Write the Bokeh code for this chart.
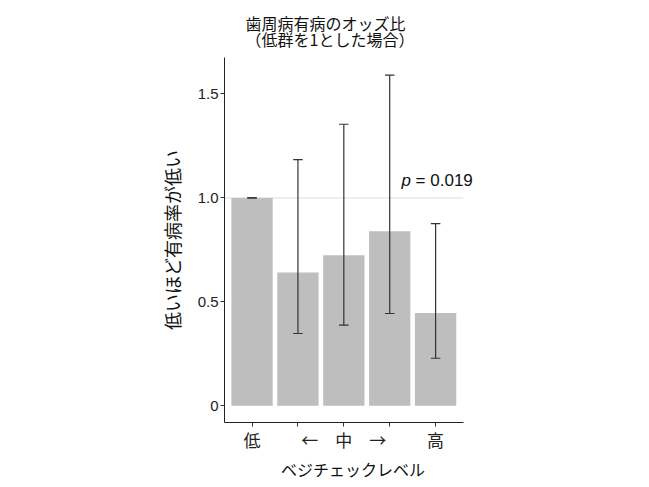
from bokeh.plotting import figure
from bokeh.models import (ColumnDataSource, Range1d, FixedTicker, CustomJSTickFormatter,
                          Whisker, TeeHead, Label, Title)
from bokeh.embed import file_html
from bokeh.resources import INLINE

# ---- data ----
categories = ["低", "", "←　中　→", "", "高"]
odds_ratio = [1.0, 0.641, 0.724, 0.840, 0.446]
ci_lower = [1.0, 0.348, 0.388, 0.444, 0.229]
ci_upper = [1.0, 1.184, 1.354, 1.590, 0.876]
y_ticks = [0, 0.5, 1.0, 1.5]
ref_value = 1.0
p_text = "0.019"

positions = list(range(1, len(categories) + 1))
src = ColumnDataSource(dict(x=positions, top=odds_ratio, lower=ci_lower, upper=ci_upper))

JP = "Noto Sans CJK JP"
LAT = "Liberation Sans"

x_lo, x_hi = 0.4, len(categories) + 0.6   # panel limits
x_view_hi = x_hi + 0.4                     # extra room for the p-value text

W, H = 649, 487
left, top, bottom = 224, 57, 65
frame_w = 257
right = W - left - frame_w

p = figure(width=W, height=H,
           output_backend="svg", toolbar_location=None,
           x_range=Range1d(x_lo, x_view_hi), y_range=Range1d(-0.08, 1.675),
           min_border_left=left, min_border_right=right, min_border_top=top, min_border_bottom=bottom)
p.background_fill_color = "white"
p.border_fill_color = "white"
p.outline_line_color = None
p.xgrid.visible = False
p.ygrid.visible = False

# reference line at OR = 1
p.line(x=[x_lo, x_hi], y=[ref_value, ref_value], line_color="#e3e3e3", line_width=1.2)

p.vbar(x="x", top="top", bottom=0, width=0.9, source=src, fill_color="#bebebe", line_color=None)

w = Whisker(base="x", upper="upper", lower="lower", source=src, line_color="#333333", line_width=1.2,
            level="overlay",
            upper_head=TeeHead(size=9.5, line_color="#333333", line_width=1.2),
            lower_head=TeeHead(size=9.5, line_color="#333333", line_width=1.2))
p.add_layout(w)

# p-value annotation
p.add_layout(Label(x=5, y=1.085, x_offset=-34, text="p", text_font=LAT, text_font_style="italic",
                   text_font_size="17px", text_color="#111111", text_align="left", text_baseline="alphabetic"))
p.add_layout(Label(x=5, y=1.085, x_offset=-20, text="= " + p_text, text_font=LAT,
                   text_font_size="17px", text_color="#111111", text_align="left", text_baseline="alphabetic"))

# axes
xa = p.xaxis[0]
xa.bounds = (x_lo, x_hi)
xa.ticker = FixedTicker(ticks=positions)
xa.formatter = CustomJSTickFormatter(args=dict(labels=categories),
                                     code="const i = Math.round(tick) - 1; return (i >= 0 && i < labels.length) ? labels[i] : '';")
xa.axis_label = "ベジチェックレベル"
xa.axis_label_text_font = JP
xa.axis_label_text_font_size = "16px"
xa.axis_label_text_font_style = "normal"
xa.axis_label_text_color = "#111111"
xa.axis_label_standoff = 2
xa.major_label_text_font = JP
xa.major_label_text_font_size = "17px"
xa.major_label_text_color = "#222222"
xa.major_label_standoff = 0
xa.axis_line_color = "#222222"
xa.major_tick_line_color = "#333333"
xa.major_tick_out = 4
xa.major_tick_in = 0
xa.minor_tick_line_color = None

ya = p.yaxis[0]
ya.ticker = FixedTicker(ticks=y_ticks)
ya.formatter = CustomJSTickFormatter(code="return tick == 0 ? '0' : tick.toFixed(1);")
ya.axis_label = "低いほど有病率が低い"
ya.axis_label_text_font = JP
ya.axis_label_text_font_size = "18px"
ya.axis_label_text_font_style = "normal"
ya.axis_label_text_color = "#111111"
ya.axis_label_standoff = 10
ya.major_label_text_font = LAT
ya.major_label_text_font_size = "15px"
ya.major_label_text_color = "#222222"
ya.major_label_standoff = 2
ya.axis_line_color = "#222222"
ya.major_tick_line_color = "#333333"
ya.major_tick_out = 4
ya.major_tick_in = 0
ya.minor_tick_line_color = None

# two-line title
t = Title(text="歯周病有病のオッズ比\n（低群を1とした場合）", align="left", offset=21,
          text_font=JP, text_font_size="16px", text_font_style="normal", text_color="#111111",
          text_line_height=0.70, standoff=12)
p.add_layout(t, "above")

open("out.html", "w").write(file_html(p, INLINE))
